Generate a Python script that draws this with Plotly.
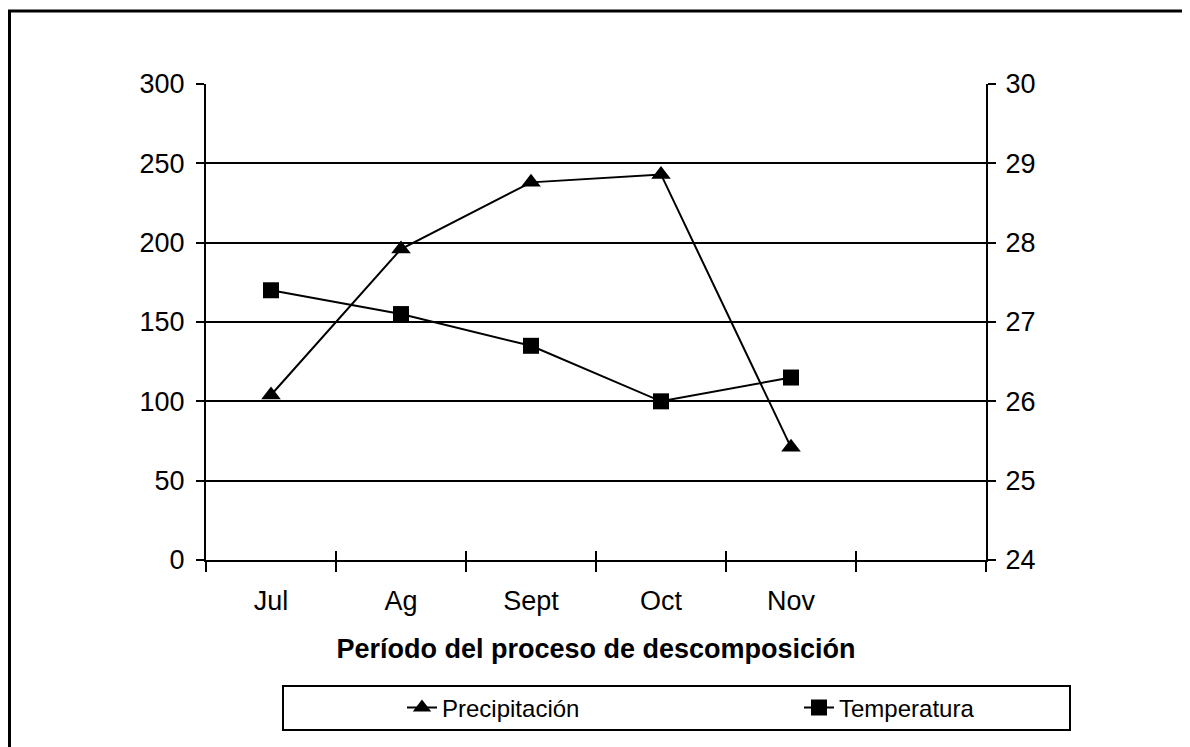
import plotly.graph_objects as go

months = ["Jul", "Ag", "Sept", "Oct", "Nov"]
axis_categories = ["Jul", "Ag", "Sept", "Oct", "Nov", " "]
precipitacion = [104, 196, 238, 243, 71]
temperatura = [27.4, 27.1, 26.7, 26.0, 26.3]
left_ticks = [0, 50, 100, 150, 200, 250, 300]
right_ticks = [24, 25, 26, 27, 28, 29, 30]

FONT = "Liberation Sans, Arial, sans-serif"

# plot area in figure pixels
PL, PR, PT, PB = 198, 978, 76, 552
PW, PH = PR - PL, PB - PT


def px(x):
    return (x - PL) / PW


def py(y):
    return (PB - y) / PH


fig = go.Figure()
fig.add_trace(go.Scatter(
    x=months, y=precipitacion, name="Precipitación", mode="lines+markers",
    line=dict(color="black", width=2),
    marker=dict(symbol="triangle-up", size=17, color="black"),
    xaxis="x", yaxis="y", hoverinfo="skip", legend="legend"))
fig.add_trace(go.Scatter(
    x=months, y=temperatura, name="Temperatura", mode="lines+markers",
    line=dict(color="black", width=2),
    marker=dict(symbol="square", size=16, color="black"),
    xaxis="x", yaxis="y2", hoverinfo="skip", legend="legend2"))
# invisible helper so the overlaid x axis (inner half of the crossing ticks) renders
fig.add_trace(go.Scatter(
    x=months, y=precipitacion, mode="lines", opacity=0, line=dict(width=0),
    xaxis="x2", yaxis="y", hoverinfo="skip", showlegend=False))

legend_common = dict(orientation="h", yanchor="middle", font=dict(size=24),
                     bgcolor="rgba(0,0,0,0)", borderwidth=0)

fig.update_layout(
    width=1190, height=747,
    margin=dict(l=PL, r=1190 - PR, t=PT, b=747 - PB),
    paper_bgcolor="white", plot_bgcolor="white",
    font=dict(family=FONT, size=27, color="black"),
    showlegend=True,
    legend=dict(x=px(394), xanchor="left", y=py(700), **legend_common),
    legend2=dict(x=px(791), xanchor="left", y=py(700), **legend_common),
    xaxis=dict(type="category", categoryorder="array", categoryarray=axis_categories,
               range=[-0.5, 5.5], tickson="boundaries", ticks="outside", ticklen=10,
               tickwidth=1.5, tickcolor="black", showline=True, linecolor="black", linewidth=2,
               showgrid=False, zeroline=False, ticklabelstandoff=16,
               tickfont=dict(size=27),
               title=dict(text="<b>Período del proceso de descomposición</b>",
                          font=dict(size=27), standoff=24)),
    xaxis2=dict(type="category", categoryorder="array", categoryarray=axis_categories,
                range=[-0.5, 5.5], tickson="boundaries", overlaying="x", anchor="y",
                side="bottom", ticks="inside", ticklen=9, tickwidth=1.5, tickcolor="black",
                showticklabels=False, showline=False, showgrid=False, zeroline=False),
    yaxis=dict(range=[0, 300], tickvals=left_ticks, ticks="outside", ticklen=8,
               tickwidth=1.5, tickcolor="black", showline=True, linecolor="black", linewidth=2,
               showgrid=True, gridcolor="black", gridwidth=2, zeroline=False,
               ticklabelstandoff=6, tickfont=dict(size=27)),
    yaxis2=dict(range=[24, 30], tickvals=right_ticks, overlaying="y", side="right",
                anchor="x", ticks="outside", ticklen=8, tickwidth=1.5, tickcolor="black",
                showline=True, linecolor="black", linewidth=2, showgrid=False,
                zeroline=False, ticklabelstandoff=4, tickfont=dict(size=27)),
    shapes=[
        dict(type="rect", xref="paper", yref="paper",
             x0=px(275), x1=px(1062), y0=py(722), y1=py(678),
             line=dict(color="black", width=2), fillcolor="rgba(0,0,0,0)"),
        dict(type="rect", xref="paper", yref="paper",
             x0=px(1.5), x1=px(1250), y0=py(800), y1=py(3),
             line=dict(color="black", width=3), fillcolor="rgba(0,0,0,0)"),
    ],
)

fig.write_html("out.html")
